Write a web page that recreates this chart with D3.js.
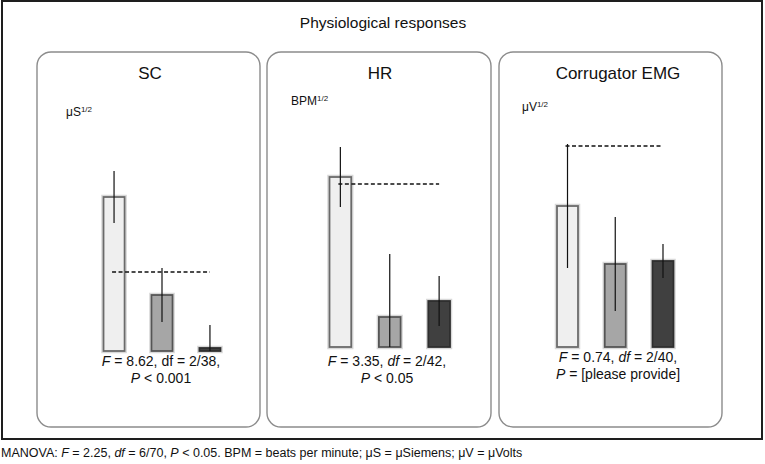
<!DOCTYPE html>
<html>
<head>
<meta charset="utf-8">
<script src="https://cdn.jsdelivr.net/npm/d3@7"></script>
<style>
  body { margin: 0; background: #fff; }
  svg { display: block; font-family: "Liberation Sans", Arial, sans-serif; }
</style>
</head>
<body>
<svg id="chart" width="765" height="464"></svg>
<script>
// groups (same three in every panel)
const groups = ["g1", "g2", "g3"];
const groupFill = ["#efefef", "#a6a6a6", "#404040"];
const groupStroke = ["#6a6a6a", "#555555", "#2e2e2e"];

// panels
const panelTitles = ["SC", "HR", "Corrugator EMG"];
const unitBase = ["\u03bcS", "BPM", "\u03bcV"];

// means (sqrt units)
const scMeans = [1.54, 0.56, 0.03];
const hrMeans = [1.70, 0.30, 0.46];
const emgMeans = [1.41, 0.83, 0.86];
// error (upper half-length)
const scErr = [0.26, 0.27, 0.23];
const hrErr = [0.30, 0.63, 0.25];
const emgErr = [0.62, 0.47, 0.17];
// reference (dashed) level
const refLevels = [0.79, 1.63, 2.01];

// stats text
const statF = ["8.62", "3.35", "0.74"];
const statDf = ["2/38", "2/42", "2/40"];
const statDfItalic = [false, true, true];
const statP = ["< 0.001", "< 0.05", "= [please provide]"];

const svg = d3.select("#chart");

// outer frame
svg.append("rect")
  .attr("x", 2).attr("y", 1)
  .attr("width", 760).attr("height", 438)
  .attr("fill", "none")
  .attr("stroke", "#1e1e1e")
  .attr("stroke-width", 2);

svg.append("text")
  .attr("x", 383).attr("y", 28)
  .attr("text-anchor", "middle")
  .style("font-size", "15.5px")
  .style("fill", "#111")
  .text("Physiological responses");

// layout of each panel
const layout = [
  { left: 37,  right: 260, base: 351, barX: [103.5, 220.5], titleX: 150, unitX: 66,  unitY: 116, statX: 161, statY: 366 },
  { left: 267, right: 491, base: 347, barX: [329.5, 450],   titleX: 380, unitX: 291, unitY: 105, statX: 387, statY: 366 },
  { left: 499, right: 722, base: 347, barX: [557, 673.5],   titleX: 618, unitX: 522, unitY: 111, statX: 618, statY: 362 }
];

const allMeans = [scMeans, hrMeans, emgMeans];
const allErr = [scErr, hrErr, emgErr];

layout.forEach((L, i) => {
  const g = svg.append("g");

  // panel box
  g.append("rect")
    .attr("x", L.left).attr("y", 52)
    .attr("width", L.right - L.left).attr("height", 375)
    .attr("rx", 14).attr("ry", 14)
    .attr("fill", "none")
    .attr("stroke", "#8c8c8c")
    .attr("stroke-width", 1.4);

  g.append("text")
    .attr("x", L.titleX).attr("y", 79)
    .attr("text-anchor", "middle")
    .style("font-size", "17px")
    .style("fill", "#111")
    .text(panelTitles[i]);

  const unit = g.append("text")
    .attr("x", L.unitX).attr("y", L.unitY)
    .style("font-size", "12px")
    .style("fill", "#111");
  unit.append("tspan").text(unitBase[i]);
  unit.append("tspan").attr("dy", -4).style("font-size", "8px").text("1/2");

  const x = d3.scaleBand()
    .domain(groups)
    .range(L.barX)
    .paddingInner(0.56)
    .paddingOuter(0);

  const y = d3.scaleLinear()
    .domain([0, 2])
    .range([L.base, L.base - 200]);

  const data = groups.map((k, j) => ({ k, j, m: allMeans[i][j], e: allErr[i][j] }));

  // soft halo behind bars
  g.selectAll(".halo")
    .data(data)
    .join("rect")
    .attr("x", d => x(d.k) - 1.5)
    .attr("y", d => y(d.m) - 1.5)
    .attr("width", x.bandwidth() + 3)
    .attr("height", d => Math.max(y(0) - y(d.m), 1) + 3)
    .attr("fill", "none")
    .attr("stroke", "#d8d8d8")
    .attr("stroke-width", 1.5);

  g.selectAll(".bar")
    .data(data)
    .join("rect")
    .attr("class", "bar")
    .attr("x", d => x(d.k))
    .attr("y", d => y(d.m))
    .attr("width", x.bandwidth())
    .attr("height", d => Math.max(y(0) - y(d.m), 1))
    .attr("fill", d => groupFill[d.j])
    .attr("stroke", d => groupStroke[d.j])
    .attr("stroke-width", 1.8);

  // reference dashed line from first to last bar centre
  g.append("line")
    .attr("x1", x(groups[0]) + x.bandwidth() / 2 - 2)
    .attr("x2", x(groups[2]) + x.bandwidth() / 2)
    .attr("y1", y(refLevels[i]))
    .attr("y2", y(refLevels[i]))
    .attr("stroke", "#111")
    .attr("stroke-width", 1.5)
    .attr("stroke-dasharray", "4,2.5");

  // error bars
  g.selectAll(".err")
    .data(data)
    .join("line")
    .attr("x1", d => x(d.k) + x.bandwidth() / 2)
    .attr("x2", d => x(d.k) + x.bandwidth() / 2)
    .attr("y1", d => y(d.m + d.e))
    .attr("y2", d => y(Math.max(d.m - d.e, 0)))
    .attr("stroke", "#111")
    .attr("stroke-width", 1.2);

  // stats
  const t1 = g.append("text")
    .attr("x", L.statX).attr("y", L.statY)
    .attr("text-anchor", "middle")
    .style("font-size", "14px")
    .style("fill", "#111");
  t1.append("tspan").style("font-style", "italic").text("F");
  t1.append("tspan").text(" = " + statF[i] + ", ");
  t1.append("tspan").style("font-style", statDfItalic[i] ? "italic" : "normal").text("df");
  t1.append("tspan").text(" = " + statDf[i] + ",");

  const t2 = g.append("text")
    .attr("x", L.statX).attr("y", L.statY + 17)
    .attr("text-anchor", "middle")
    .style("font-size", "14px")
    .style("fill", "#111");
  t2.append("tspan").style("font-style", "italic").text("P");
  t2.append("tspan").text(" " + statP[i]);
});

// footnote
const foot = svg.append("text")
  .attr("x", 1).attr("y", 457)
  .style("font-size", "12.5px")
  .style("fill", "#111");
foot.append("tspan").text("MANOVA: ");
foot.append("tspan").style("font-style", "italic").text("F");
foot.append("tspan").text(" = 2.25, ");
foot.append("tspan").style("font-style", "italic").text("df");
foot.append("tspan").text(" = 6/70, ");
foot.append("tspan").style("font-style", "italic").text("P");
foot.append("tspan").text(" < 0.05. BPM = beats per minute; \u03bcS = \u03bcSiemens; \u03bcV = \u03bcVolts");
</script>
</body>
</html>
